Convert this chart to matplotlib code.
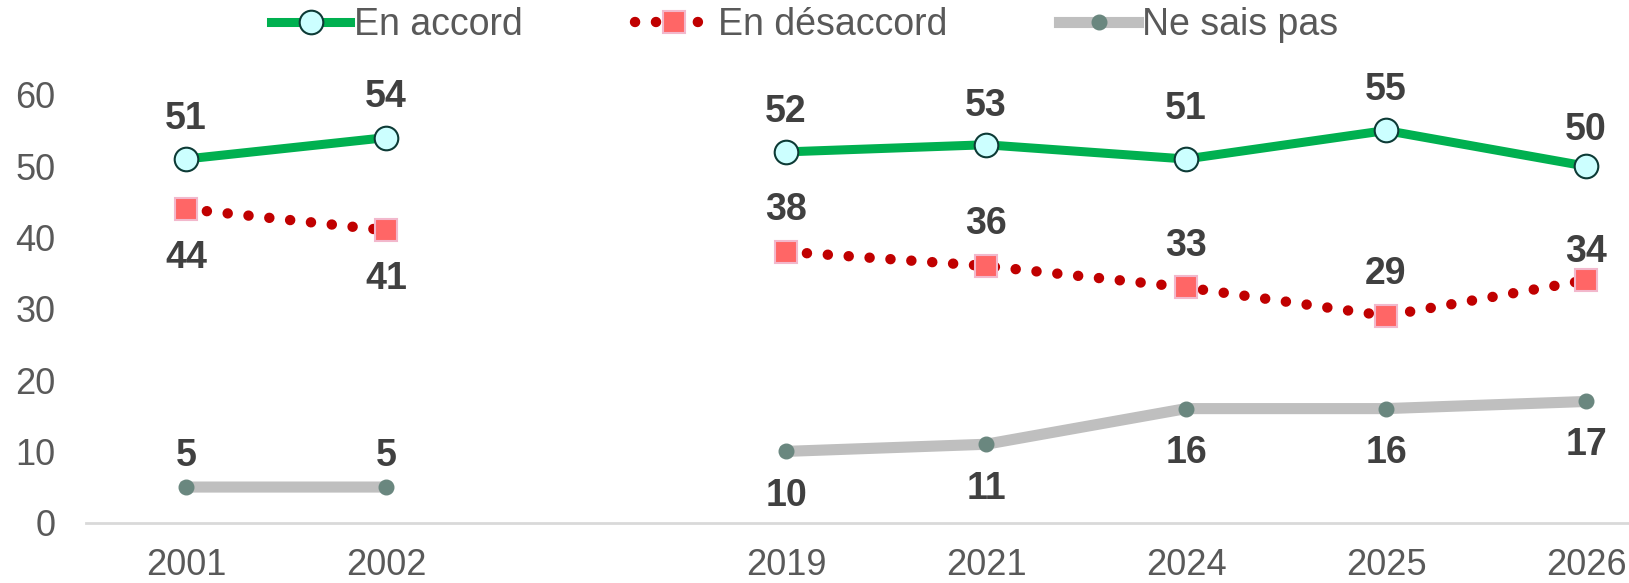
import numpy as np
import matplotlib.pyplot as plt

# DATA
years = ["2001", "2002", "", "2019", "2021", "2024", "2025", "2026"]
accord = [51, 54, np.nan, 52, 53, 51, 55, 50]
desaccord = [44, 41, np.nan, 38, 36, 33, 29, 34]
nsp = [5, 5, np.nan, 10, 11, 16, 16, 17]

# label offsets in points (positive = above the point, negative = below)
accord_off = [29, 29, 0, 29, 28, 36, 29, 26]
desaccord_off = [-35, -35, 0, 30, 30, 30, 30, 20]
nsp_off = [22, 22, 0, -32, -32, -32, -32, -31]

plt.rcParams["font.family"] = ["Liberation Sans", "DejaVu Sans"]

fig = plt.figure(figsize=(16.29, 5.83), dpi=100)
ax = fig.add_axes([86 / 1629, 60.3 / 583, 1543 / 1629, 522.7 / 583])

x = np.arange(len(years))

ax.plot(x, accord, color="#00B050", lw=6.5, marker="o", ms=17,
        mfc="#CCFFFF", mec="#0D3B36", mew=1.5, label="En accord", zorder=3)
ax.plot(x, desaccord, color="#C00000", lw=7.5, linestyle=(0, (0.01, 2.0)),
        dash_capstyle="round", marker="s", ms=16, mfc="#FF6666",
        mec="#F2B8CC", mew=1.5, label="En désaccord", zorder=3)
ax.plot(x, nsp, color="#BFBFBF", lw=8, marker="o", ms=10.5,
        mfc="#6A877F", mec="#6A877F", label="Ne sais pas", zorder=2)

def add_labels(vals, offs):
    for xi, v, o in zip(x, vals, offs):
        if np.isnan(v):
            continue
        ax.annotate(f"{int(v)}", (xi, v), xytext=(0, o),
                    textcoords="offset points", ha="center", va="center",
                    fontsize=27, fontweight="bold", color="#404040")

add_labels(accord, accord_off)
add_labels(desaccord, desaccord_off)
add_labels(nsp, nsp_off)

ax.set_xlim(-0.5, 7.215)
ax.set_ylim(0, 73.3)
ax.set_yticks([0, 10, 20, 30, 40, 50, 60])
ax.set_xticks(x)
ax.set_xticklabels(years)
ax.tick_params(axis="both", length=0, labelsize=26, colors="#595959")
ax.tick_params(axis="x", pad=18)
ax.tick_params(axis="y", pad=22)

for s in ["top", "right", "left"]:
    ax.spines[s].set_visible(False)
ax.spines["bottom"].set_color("#D9D9D9")
ax.spines["bottom"].set_linewidth(2)

leg = fig.legend(loc="center", bbox_to_anchor=(0.494, 0.957), ncol=3,
                 frameon=False, fontsize=27, handlelength=2.1,
                 handletextpad=0.1, columnspacing=3.0)
for t in leg.get_texts():
    t.set_color("#595959")

fig.savefig("out.png", dpi=100)
